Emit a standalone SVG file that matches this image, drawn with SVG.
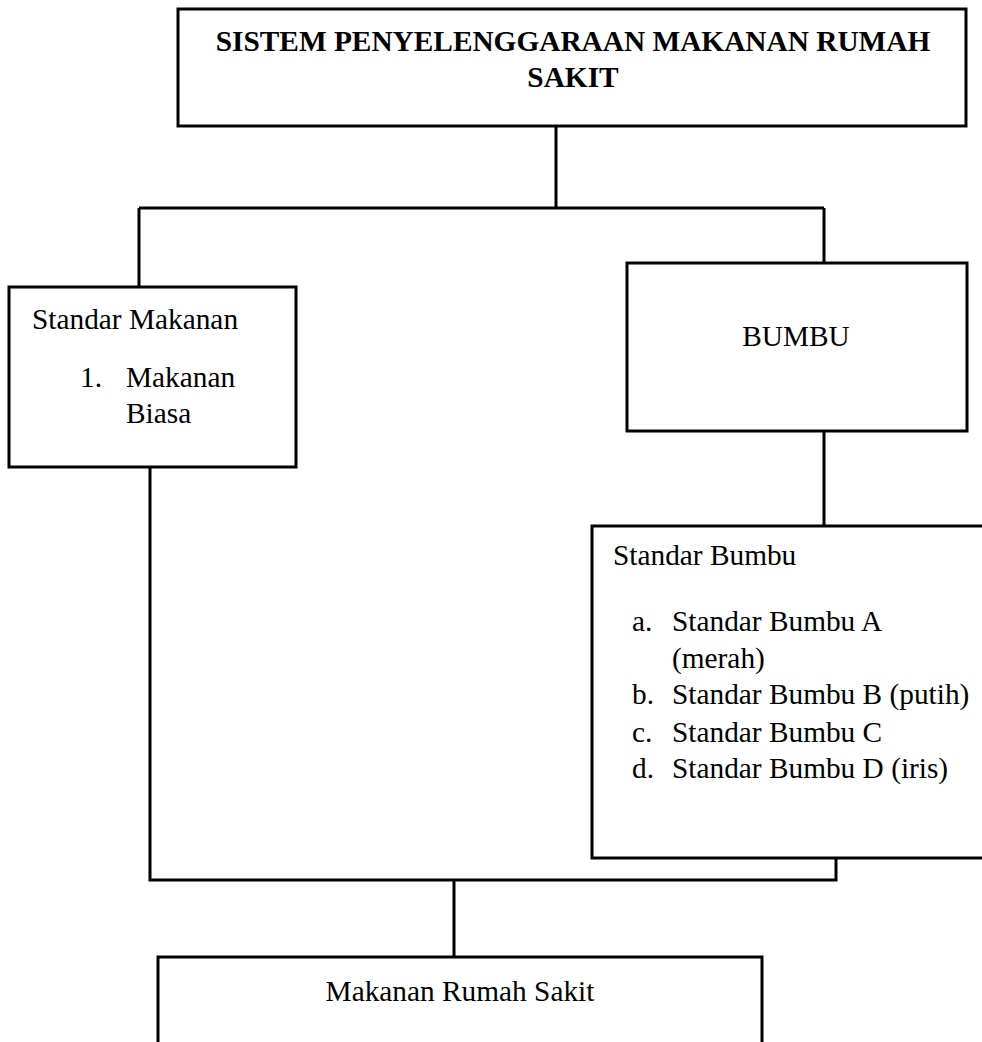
<svg xmlns="http://www.w3.org/2000/svg" width="982" height="1042" viewBox="0 0 982 1042">
<style>
.box{fill:#fff;stroke:#000;stroke-width:3}
.ln{fill:none;stroke:#000;stroke-width:3}
text{font-family:"Liberation Serif","Times New Roman",serif;font-size:29.33px;fill:#000}
.b{font-weight:bold}
.c{text-anchor:middle}
</style>
<rect width="982" height="1042" fill="#fff"/>
<g id="connectors">
<path class="ln" d="M556 126V208M139 208H824M139 208V287M824 208V263M824 431V526M150 467V880H836V858M454 880V957"/>
</g>
<g id="n-sistem">
<rect class="box" x="178" y="9" width="788" height="117"/>
<text class="b c" x="573" y="51">SISTEM PENYELENGGARAAN MAKANAN RUMAH</text>
<text class="b c" x="573" y="87">SAKIT</text>
</g>
<g id="n-standar-makanan">
<rect class="box" x="9" y="287" width="287" height="180"/>
<text x="32" y="329">Standar Makanan</text>
<text x="80" y="387">1.</text>
<text x="126" y="387">Makanan</text>
<text x="126" y="423">Biasa</text>
</g>
<g id="n-bumbu">
<rect class="box" x="627" y="263" width="340" height="168"/>
<text class="c" x="796" y="346">BUMBU</text>
</g>
<g id="n-standar-bumbu">
<rect class="box" x="592" y="526" width="400" height="332"/>
<text x="613" y="565">Standar Bumbu</text>
<text x="632" y="631">a.</text>
<text x="672" y="631">Standar Bumbu A</text>
<text x="672" y="668">(merah)</text>
<text x="632" y="704">b.</text>
<text x="672" y="704">Standar Bumbu B (putih)</text>
<text x="632" y="742">c.</text>
<text x="672" y="742">Standar Bumbu C</text>
<text x="632" y="778">d.</text>
<text x="672" y="778">Standar Bumbu D (iris)</text>
</g>
<g id="n-makanan-rs">
<rect class="box" x="158" y="957" width="604" height="100"/>
<text class="c" x="460" y="1001">Makanan Rumah Sakit</text>
</g>
</svg>
